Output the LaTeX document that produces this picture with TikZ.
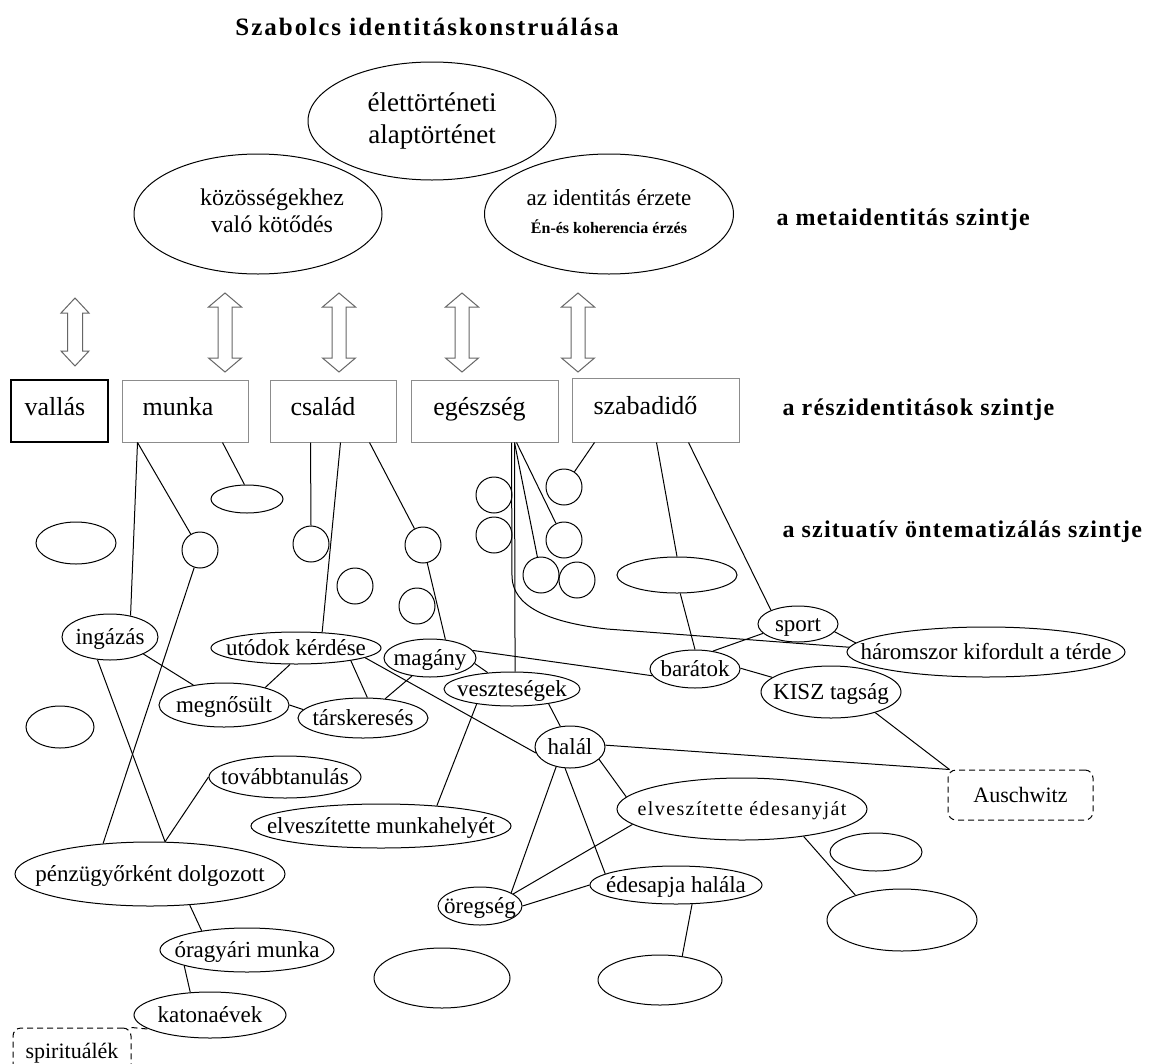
\documentclass[tikz,border=0pt]{standalone}
\usepackage{fontspec}
\setmainfont{Liberation Serif}
\newfontfamily\titlefont[LetterSpace=8]{Liberation Serif}
\newfontfamily\lblfont[LetterSpace=5]{Liberation Serif}
\newfontfamily\spacedfont[LetterSpace=7]{Liberation Serif}
\usetikzlibrary{shapes.geometric}
\newcommand{\ct}[2][0pt]{\makebox[0pt]{\hspace*{#1}\hspace*{#1}\raisebox{-0.32em}[0pt][0pt]{#2}}}
\newcommand{\ctt}[2][0pt]{\makebox[0pt]{\hspace*{#1}\hspace*{#1}\raisebox{-0.25em}[0pt][0pt]{\begin{tabular}{@{}c@{}}#2\end{tabular}}}}
\newcommand{\udarrow}[6]{%
  \draw[black!60, line width=1pt] (#1,#2) -- ({#1+#5},{#2+#6}) -- ({#1+#4},{#2+#6}) -- ({#1+#4},{#3-#6}) -- ({#1+#5},{#3-#6}) -- (#1,#3) -- ({#1-#5},{#3-#6}) -- ({#1-#4},{#3-#6}) -- ({#1-#4},{#2+#6}) -- ({#1-#5},{#2+#6}) -- cycle;}
\begin{document}
\begin{tikzpicture}[x=1pt,y=-1pt, line width=1pt,
  el/.style 2 args={ellipse, draw, minimum width=#1, minimum height=#2, inner sep=0pt, font=\fontsize{23}{26}\selectfont},
  circ/.style={circle, draw, minimum size=36, inner sep=0pt},
  rbox/.style={rectangle, draw=black!45, minimum width=#1, minimum height=62, inner sep=0pt, text height=16pt, text depth=8pt, font=\fontsize{26}{30}\selectfont},
  lvl/.style={anchor=west, inner sep=0pt, font=\fontsize{24}{28}\selectfont\lblfont\bfseries},
  dbox/.style={rectangle, rounded corners=8, draw, dash pattern=on 6pt off 4pt, minimum width=#1, minimum height=50, inner sep=0pt, font=\fontsize{22}{26}\selectfont}
]
\fill[white] (0,0) rectangle (1162,1063);
\useasboundingbox (0,0) rectangle (1162,1063);

% title
\node[font=\fontsize{25}{30}\selectfont\titlefont\bfseries, inner sep=0pt] (title) at (427,27) {Szabolcs identitáskonstruálása};

% meta level
\node[el={248}{118}, font=\fontsize{27}{32}\selectfont] (elet) at (432,121) {\ctt{élettörténeti\\alaptörténet}};
\node[el={248}{120}, font=\fontsize{24}{27}\selectfont] (kozos) at (258,214) {\ctt[14pt]{közösségekhez\\való kötődés}};
\node[el={249}{120}, font=\fontsize{23}{28}\selectfont] (ident) at (609,214) {\ctt{az identitás érzete\\{\fontsize{16}{20}\selectfont\bfseries Én-és koherencia érzés}}};

\node[lvl] (lmeta) at (776,220) {a metaidentitás szintje};
\node[lvl] (lresz) at (782,410) {a részidentitások szintje};
\node[lvl] (lszit) at (782,532) {a szituatív öntematizálás szintje};

% double arrows
\udarrow{75}{298}{366}{7.5}{14}{15}
\udarrow{225}{293}{372}{7}{16.5}{14}
\udarrow{339}{293}{372}{7}{16.5}{14}
\udarrow{462}{293}{372}{7}{16.5}{14}
\udarrow{578}{293}{372}{7}{16.5}{14}

% boxes
\node[rbox=97, draw=black, line width=1.4pt] (vallas) at (59.5,411) {vallás\hspace*{9pt}};
\node[rbox=126] (munka) at (185,411) {munka\hspace*{14pt}};
\node[rbox=126] (csalad) at (333,411) {család\hspace*{20pt}};
\node[rbox=147] (egeszseg) at (484.5,411) {egészség\hspace*{10pt}};
\node[rbox=167, minimum height=64] (szabad) at (655.5,410) {szabadidő\hspace*{20pt}};

% circles
\node[circ] (c1) at (200,550) {};
\node[circ] (c2) at (311,544) {};
\node[circ] (c3) at (423,545) {};
\node[circ] (c4) at (355,586) {};
\node[circ] (c5) at (417,606) {};
\node[circ] (e1) at (494,495) {};
\node[circ] (e2) at (494,535) {};
\node[circ] (e3) at (564,487) {};
\node[circ] (e4) at (564,540) {};
\node[circ] (e5) at (541,575) {};
\node[circ] (e6) at (577,580) {};

% empty ellipses
\node[el={72}{28}] (el1) at (247,499) {};
\node[el={80}{42}] (left1) at (76,543) {};
\node[el={68}{42}] (left2) at (60,727) {};
\node[el={120}{36}] (F) at (677,575) {};
\node[el={92}{38}] (G) at (876,852) {};
\node[el={150}{62}] (H) at (902,920) {};
\node[el={124}{50}] (I) at (660,980) {};
\node[el={136}{60}] (K) at (442,978) {};

% text ellipses
\node[el={96}{46}] (ingazas) at (110,637) {\ct{ingázás}};
\node[el={170}{32}] (utodok) at (296,648) {\ct{utódok kérdése}};
\node[el={92}{38}] (magany) at (430,658) {\ct{magány}};
\node[el={136}{34}] (veszt) at (512,689) {\ct{veszteségek}};
\node[el={130}{44}] (megnosult) at (224,705) {\ct{megnősült}};
\node[el={130}{40}] (tars) at (363,718) {\ct{társkeresés}};
\node[el={70}{42}] (halal) at (570,747) {\ct{halál}};
\node[el={152}{42}] (tovabb) at (285,777) {\ct{továbbtanulás}};
\node[el={260}{44}] (elvm) at (381,826) {\ct{elveszítette munkahelyét}};
\node[el={250}{62}, font=\fontsize{20}{24}\selectfont\spacedfont] (edesanyjat) at (742,809) {\ct{elveszítette édesanyját}};
\node[el={270}{64}] (penz) at (150,874) {\ct{pénzügyőrként dolgozott}};
\node[el={84}{38}] (oregseg) at (480,906) {\ct{öregség}};
\node[el={172}{38}] (edesapja) at (676,885) {\ct{édesapja halála}};
\node[el={174}{44}] (ora) at (247,950) {\ct{óragyári munka}};
\node[el={152}{46}] (katona) at (210,1015) {\ct{katonaévek}};
\node[el={80}{36}] (sport) at (798,624) {\ct{sport}};
\node[el={278}{50}] (harom) at (986,652) {\ct{háromszor kifordult a térde}};
\node[el={90}{38}] (baratok) at (695,669) {\ct{barátok}};
\node[el={140}{52}] (kisz) at (831,692) {\ct{KISZ tagság}};

% dashed boxes
\node[dbox=145] (ausch) at (1020.5,795) {Auschwitz};
\node[dbox=118, minimum height=52] (spirit) at (72,1054) {\raisebox{6pt}{spirituálék}};

% connectors
\draw ([xshift=16pt]munka.south west) -- (ingazas.46);
\draw ([xshift=16pt]munka.south west) -- (c1);
\draw ([xshift=101pt]munka.south west) -- (el1.100);
\draw ([xshift=41pt]csalad.south west) -- (c2.north);
\draw ([xshift=71pt]csalad.south west) -- (utodok.31);
\draw ([xshift=100pt]csalad.south west) -- (c3);
\draw (c3) -- (magany.50);
\draw (c1) -- (penz.147);
\draw (ingazas.241) -- (penz.65);
\draw (ingazas.-27) -- (megnosult.147);
\draw (utodok.250) -- (megnosult.23);
\draw (megnosult.0) -- (tars.172);
\draw (utodok.-13) -- (tars.78);
\draw (magany.225) -- (tars.41);
\draw (utodok.-8) -- (halal.190);
\draw (magany.10) -- (baratok.189);
\draw (magany.-7) -- (veszt.146);
\draw (veszt.203) -- (elvm.20);
\draw (veszt.-22) -- (halal.115);
\draw ([xshift=104pt]egeszseg.south west) -- (veszt.80);
\draw ([xshift=106pt]egeszseg.south west) -- (e4);
\draw ([xshift=104pt]egeszseg.south west) -- (e5);
\draw ([xshift=101pt]egeszseg.south west) -- (512,577) .. controls (513,605) and (545,622) .. (607,629) -- (harom.178);
\draw ([xshift=23pt]szabad.south west) -- (e3);
\draw ([xshift=85pt]szabad.south west) -- (F.north);
\draw (F.-80) -- (baratok.north);
\draw ([xshift=117pt]szabad.south west) -- (sport.153);
\draw (sport.-12) -- (harom.176);
\draw (sport.195) -- (baratok.45);
\draw (baratok.1) -- (kisz.166);
\draw (kisz.-25) -- ([xshift=2pt]ausch.north west);
\draw (halal.3) -- ([xshift=2pt]ausch.north west);
\draw (halal.-23) -- (edesanyjat.174);
\draw (halal.257) -- (edesapja.171);
\draw (halal.235) -- (oregseg.23);
\draw (edesanyjat.188) -- (oregseg.20);
\draw (oregseg.0) -- (edesapja.180);
\draw (edesanyjat.-24) -- (H.152);
\draw (edesapja.-50) -- (I.47);
\draw (tovabb.180) -- (penz.65);
\draw (penz.-38) -- (ora.157);
\draw (ora.194) -- (katona.131);
\draw[dash pattern=on 6pt off 4pt] (spirit.north east) -- (katona.193);
\end{tikzpicture}
\end{document}
